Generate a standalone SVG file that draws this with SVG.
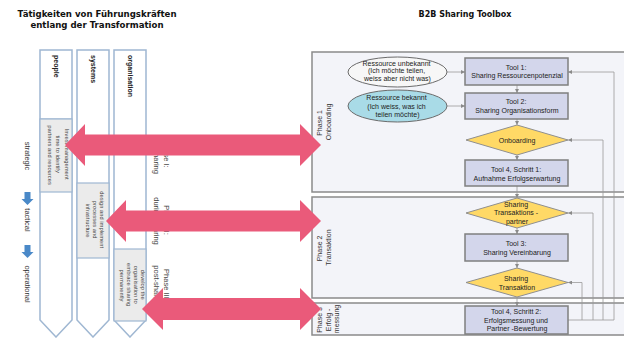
<svg xmlns="http://www.w3.org/2000/svg" width="624" height="338" viewBox="0 0 624 338">
  <style>
    text { font-family: "Liberation Sans", Arial, sans-serif; }
    .title { font-family: "DejaVu Sans", Verdana, sans-serif; font-weight: bold; font-size: 8.6px; fill: #111; text-anchor: middle; }
    .col { fill: #fff; stroke: #9fb7d2; stroke-width: 1.5; }
    .cell { fill: #ebebeb; stroke: #9fb7d2; stroke-width: 1.2; }
    .hdr { font-size: 7px; font-weight: bold; fill: #222; }
    .celltxt { font-size: 5.8px; fill: #444; text-anchor: middle; }
    .level { font-size: 7.5px; fill: #333; text-anchor: middle; }
    .phase { font-size: 7.5px; fill: #444; text-anchor: middle; }
    .lane { fill: #f3f4f9; stroke: #8a8a8a; stroke-width: 1.5; }
    .lanetxt { font-size: 7px; fill: #333; text-anchor: middle; }
    .tool { fill: #d3d6eb; stroke: #7f7f7f; stroke-width: 1.5; }
    .dec { fill: #ffd966; stroke: #8f8f8f; stroke-width: 1; }
    .ell1 { fill: #f7f7f7; stroke: #6b6b6b; stroke-width: 1; }
    .ell2 { fill: #a9dbe7; stroke: #6b6b6b; stroke-width: 1; }
    .lbl { font-size: 7px; fill: #222; text-anchor: middle; }
    .link { fill: none; stroke: #9a9a9a; stroke-width: 0.8; marker-end: url(#ah); }
    .big { fill: #ea5a7a; }
    .down { fill: #4a89c8; }
  </style>
  <defs>
    <marker id="ah" viewBox="0 0 6 6" refX="6" refY="3" markerWidth="4" markerHeight="4" orient="auto" markerUnits="userSpaceOnUse">
      <path d="M0,0 L6,3 L0,6 z" fill="#8a8a8a"/>
    </marker>
  </defs>

  <rect width="624" height="338" fill="#fff"/>

  <!-- headings -->
  <text class="title" x="97" y="17">Tätigkeiten von Führungskräften</text>
  <text class="title" x="97" y="27.5">entlang der Transformation</text>
  <text class="title" x="465" y="17" style="font-size:8px">B2B Sharing Toolbox</text>

  <!-- management levels -->
  <g id="levels">
    <text class="level" transform="translate(27.5,156) rotate(90)" y="2.6">strategic</text>
    <path class="down" d="M24.5,192 H30.5 V199 H33.5 L27.5,205 L21.5,199 H24.5 z"/>
    <text class="level" transform="translate(27.5,220) rotate(90)" y="2.6">tactical</text>
    <path class="down" d="M24.5,245 H30.5 V252 H33.5 L27.5,258 L21.5,252 H24.5 z"/>
    <text class="level" transform="translate(27.5,284) rotate(90)" y="2.6">operational</text>
  </g>

  <!-- column: people -->
  <g id="col-people">
    <polygon class="col" points="40,50 72,50 72,320 56,337 40,320"/>
    <line x1="40" y1="119" x2="72" y2="119" stroke="#9fb7d2" stroke-width="1.2"/>
    <rect class="cell" x="40" y="119" width="32" height="73"/>
    <text class="hdr" transform="translate(56,55) rotate(90)" y="2.5">people</text>
    <text class="celltxt" transform="translate(58,155) rotate(90)">
      <tspan x="0" y="-6.5">Invest management</tspan>
      <tspan x="0" y="2">time to identify</tspan>
      <tspan x="0" y="10.5">partners and resources</tspan>
    </text>
  </g>

  <!-- column: systems -->
  <g id="col-systems">
    <polygon class="col" points="77,50 109,50 109,320 93,337 77,320"/>
    <rect class="cell" x="77" y="183" width="32" height="75"/>
    <text class="hdr" transform="translate(93,55) rotate(90)" y="2.5">systems</text>
    <text class="celltxt" transform="translate(94.5,220.5) rotate(90)">
      <tspan x="0" y="-5">design and implement</tspan>
      <tspan x="0" y="2">processes and</tspan>
      <tspan x="0" y="9">infrastructure</tspan>
    </text>
  </g>

  <!-- column: organisation -->
  <g id="col-organisation">
    <polygon class="col" points="114,50 146,50 146,320 130,337 114,320"/>
    <rect class="cell" x="114" y="249" width="32" height="72"/>
    <text class="hdr" transform="translate(130,55) rotate(90)" y="2.5">organisation</text>
    <text class="celltxt" transform="translate(132,285.5) rotate(90)">
      <tspan x="0" y="-8.5">develop the</tspan>
      <tspan x="0" y="-1.5">organisation to</tspan>
      <tspan x="0" y="5.5">embrace sharing</tspan>
      <tspan x="0" y="12.5">permanently</tspan>
    </text>
  </g>

  <!-- sharing phases -->
  <g id="phase-labels">
    <text class="phase" transform="translate(162,155) rotate(90)">
      <tspan x="0" y="-2.2">Phase I:</tspan>
      <tspan x="0" y="7.8">pre-sharing</tspan>
    </text>
    <text class="phase" transform="translate(162,221) rotate(90)">
      <tspan x="0" y="-2.2">Phase II:</tspan>
      <tspan x="0" y="7.8">during sharing</tspan>
    </text>
    <text class="phase" transform="translate(162,286) rotate(90)">
      <tspan x="0" y="-2.2">Phase III:</tspan>
      <tspan x="0" y="7.8">post-sharing</tspan>
    </text>
  </g>

  <!-- toolbox lanes -->
  <g id="lane-1">
    <rect class="lane" x="312" y="52" width="316" height="140"/>
    <text class="lanetxt" transform="translate(323,122) rotate(-90)">
      <tspan x="0" y="-1">Phase 1</tspan>
      <tspan x="0" y="7.5">Onboarding</tspan>
    </text>
  </g>
  <g id="lane-2">
    <rect class="lane" x="312" y="197" width="316" height="101"/>
    <text class="lanetxt" transform="translate(323,247.5) rotate(-90)">
      <tspan x="0" y="-1">Phase 2</tspan>
      <tspan x="0" y="7.5">Transaktion</tspan>
    </text>
  </g>
  <g id="lane-3">
    <rect class="lane" x="312" y="303" width="316" height="32"/>
    <text class="lanetxt" transform="translate(328,319) rotate(-90)">
      <tspan x="0" y="-6">Phase 3</tspan>
      <tspan x="0" y="2.5">Erfolg -</tspan>
      <tspan x="0" y="11">messung</tspan>
    </text>
  </g>

  <!-- connectors -->
  <g id="connectors">
    <path class="link" d="M447,72 H465"/>
    <path class="link" d="M447,106 H465"/>
    <path class="link" d="M517,85 V93"/>
    <path class="link" d="M517,119 V125"/>
    <path class="link" d="M517,155 V160"/>
    <path class="link" d="M517,186 V198"/>
    <path class="link" d="M517,228 V234"/>
    <path class="link" d="M517,261 V268"/>
    <path class="link" d="M517,297 V306"/>
    <path class="link" d="M568,320 H614 V72 H568"/>
    <path class="link" d="M582,320 V282.5 H568"/>
    <path class="link" d="M593,320 V213 H568"/>
    <path class="link" d="M603,320 V140 H568"/>
  </g>

  <!-- toolbox nodes -->
  <g id="res-unknown">
    <ellipse class="ell1" cx="397.5" cy="72" rx="49.5" ry="15"/>
    <text class="lbl" x="397.5">
      <tspan x="397.5" y="65.5">Ressource unbekannt</tspan>
      <tspan x="397.5" y="73.3">(Ich möchte teilen,</tspan>
      <tspan x="397.5" y="81">weiss aber nicht was)</tspan>
    </text>
  </g>
  <g id="res-known">
    <ellipse class="ell2" cx="397.5" cy="106" rx="49.5" ry="16"/>
    <text class="lbl">
      <tspan x="397.5" y="99.8">Ressource bekannt</tspan>
      <tspan x="397.5" y="108.5">(Ich weiss, was ich</tspan>
      <tspan x="397.5" y="117.2">teilen möchte)</tspan>
    </text>
  </g>
  <g id="tool1">
    <rect class="tool" x="465" y="58" width="103" height="27"/>
    <text class="lbl">
      <tspan x="517" y="69.5">Tool 1:</tspan>
      <tspan x="517" y="78">Sharing Ressourcenpotenzial</tspan>
    </text>
  </g>
  <g id="tool2">
    <rect class="tool" x="465" y="93" width="103" height="26"/>
    <text class="lbl">
      <tspan x="517" y="104">Tool 2:</tspan>
      <tspan x="517" y="113">Sharing Organisationsform</tspan>
    </text>
  </g>
  <g id="onboarding">
    <polygon class="dec" points="466,140 517,125 568,140 517,155"/>
    <text class="lbl" x="517" y="142.5">Onboarding</text>
  </g>
  <g id="tool4-step1">
    <rect class="tool" x="465" y="160" width="103" height="26"/>
    <text class="lbl">
      <tspan x="517" y="171.5">Tool 4, Schritt 1:</tspan>
      <tspan x="517" y="180.5">Aufnahme Erfolgserwartung</tspan>
    </text>
  </g>
  <g id="partner">
    <polygon class="dec" points="466,213 517,198 568,213 517,228"/>
    <text class="lbl">
      <tspan x="517" y="206.5">Sharing</tspan>
      <tspan x="517" y="215.2">Transaktions -</tspan>
      <tspan x="517" y="224">partner</tspan>
    </text>
  </g>
  <g id="tool3">
    <rect class="tool" x="465" y="234" width="103" height="27"/>
    <text class="lbl">
      <tspan x="517" y="246">Tool 3:</tspan>
      <tspan x="517" y="255">Sharing Vereinbarung</tspan>
    </text>
  </g>
  <g id="transaktion">
    <polygon class="dec" points="466,282.5 517,268 568,282.5 517,297"/>
    <text class="lbl">
      <tspan x="517" y="280.5">Sharing</tspan>
      <tspan x="517" y="289.5">Transaktion</tspan>
    </text>
  </g>
  <g id="tool4-step2">
    <rect class="tool" x="465" y="306" width="103" height="28"/>
    <text class="lbl">
      <tspan x="517" y="314">Tool 4, Schritt 2:</tspan>
      <tspan x="517" y="322.5">Erfolgsmessung und</tspan>
      <tspan x="517" y="331">Partner -Bewertung</tspan>
    </text>
  </g>

  <!-- double-headed links between leadership tasks and toolbox phases -->
  <g id="bridges">
    <polygon class="big" points="65,145 85,124 85,134.5 300,134.5 300,124 321,145 300,166 300,155.5 85,155.5 85,166"/>
    <polygon class="big" points="106,221 126,200 126,210.5 300,210.5 300,200 321,221 300,242 300,231.5 126,231.5 126,242"/>
    <polygon class="big" points="142,309 163,288 163,298 300,298 300,288 321,309 300,330 300,320 163,320 163,330"/>
  </g>
</svg>
